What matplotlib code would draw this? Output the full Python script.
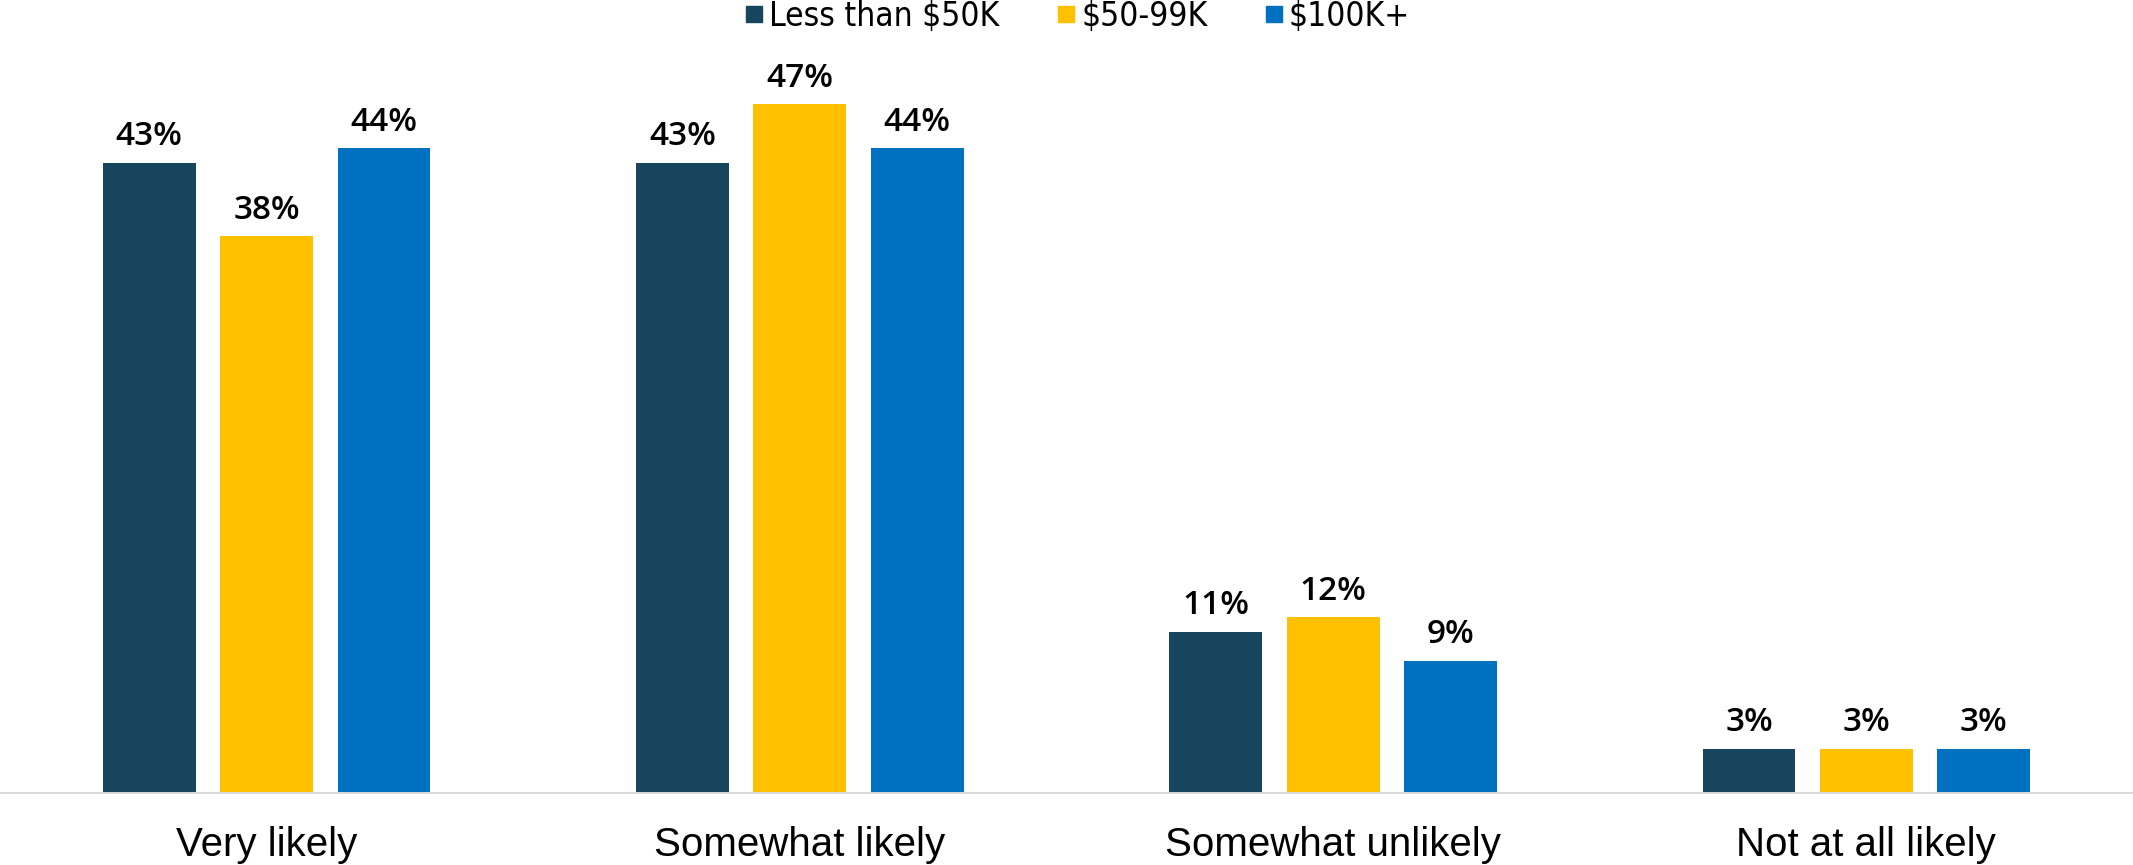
import numpy as np
import matplotlib.pyplot as plt
from matplotlib.lines import Line2D

# datos del grafico
categorias = ['Very likely', 'Somewhat likely', 'Somewhat unlikely', 'Not at all likely']
series = ['Less than $50K', '$50-99K', '$100K+']
menos_50k = [43, 43, 11, 3]
de_50_99k = [38, 47, 12, 3]
mas_100k = [44, 44, 9, 3]

colores = ['#17455E', '#FFC000', '#0070C0']
valores = [menos_50k, de_50_99k, mas_100k]

fig = plt.figure(figsize=(21.33, 8.65), dpi=100)
ax = fig.add_axes([0, 0.0832, 1, 0.8468])

x = np.arange(len(categorias))
ancho = 0.174
paso = 0.22

for i, (vals, col) in enumerate(zip(valores, colores)):
    pos = x + (i - 1) * paso
    barras = ax.bar(pos, vals, width=ancho, color=col, zorder=2)
    for b, v in zip(barras, vals):
        ax.annotate(f'{v}%', (b.get_x() + b.get_width() / 2, v),
                    xytext=(0, 7), textcoords='offset points',
                    ha='center', va='bottom', fontsize=24,
                    family='Open Sans', fontweight='semibold', color='black')

ax.set_xlim(-0.5, 3.5)
ax.set_ylim(0, 50)
ax.set_xticks(x)
ax.set_xticklabels(categorias, fontsize=29, family='Liberation Sans')
ax.tick_params(axis='x', length=0, pad=24)
ax.set_yticks([])
for s in ['top', 'right', 'left']:
    ax.spines[s].set_visible(False)
ax.spines['bottom'].set_color('#D9D9D9')
ax.spines['bottom'].set_linewidth(1.4)

# leyenda arriba
handles = [Line2D([], [], marker='s', linestyle='', markersize=11,
                  markerfacecolor=c, markeredgecolor=c) for c in colores]
fig.legend(handles, series, loc='upper center', bbox_to_anchor=(0.505, 1.035),
           ncol=3, frameon=False, handletextpad=0.15, columnspacing=1.7,
           handlelength=0.6,
           prop={'family': 'DejaVu Sans', 'stretch': 'condensed', 'size': 24})

fig.savefig('out.png', dpi=100)
